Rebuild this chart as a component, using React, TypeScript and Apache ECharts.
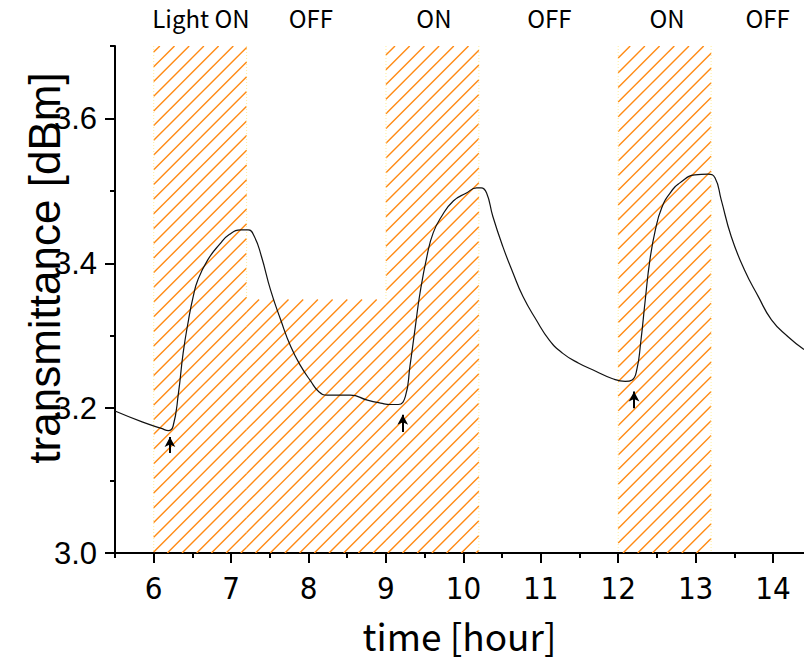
import React, { useEffect, useRef } from "react";
import * as echarts from "echarts";

// ---- data ----
const timeHour = [
  5.5, 5.85, 6.1, 6.19, 6.25, 6.32, 6.38, 6.45, 6.51, 6.57, 6.7, 6.85, 6.98, 7.13, 7.22, 7.3, 7.39, 7.51,
  7.64, 7.77, 7.9, 8.03, 8.13, 8.24, 8.54, 8.76, 8.93, 9.06, 9.16, 9.25, 9.31, 9.38, 9.44, 9.53, 9.61, 9.72,
  9.87, 10.04, 10.17, 10.23, 10.3, 10.38, 10.51, 10.64, 10.77, 10.94, 11.11, 11.28, 11.49, 11.71, 11.92,
  12.09, 12.18, 12.24, 12.29, 12.35, 12.41, 12.48, 12.56, 12.67, 12.82, 12.99, 13.16, 13.25, 13.33, 13.46,
  13.63, 13.81, 13.98, 14.19, 14.4,
];
const transmittance = [
  3.196, 3.181, 3.172, 3.169, 3.175, 3.221, 3.276, 3.322, 3.354, 3.377, 3.405, 3.426, 3.44, 3.446, 3.446,
  3.437, 3.41, 3.363, 3.322, 3.285, 3.258, 3.237, 3.223, 3.218, 3.218, 3.211, 3.207, 3.205, 3.205, 3.216,
  3.258, 3.313, 3.359, 3.41, 3.442, 3.465, 3.486, 3.497, 3.504, 3.504, 3.497, 3.465, 3.423, 3.387, 3.354,
  3.322, 3.294, 3.276, 3.262, 3.251, 3.241, 3.237, 3.239, 3.253, 3.29, 3.35, 3.405, 3.446, 3.476, 3.497,
  3.513, 3.522, 3.523, 3.518, 3.488, 3.437, 3.391, 3.354, 3.322, 3.299, 3.281,
];

const regionStart = [6, 7.2, 9, 12];
const regionEnd = [7.2, 9, 10.2, 13.2];
const regionTop = [3.7, 3.35, 3.7, 3.7];

const phaseLabels = ["Light ON", "OFF", "ON", "OFF", "ON", "OFF"];
const phaseLabelX = [6.61, 8.03, 9.62, 11.11, 12.63, 13.93];

const arrowX = [6.21, 9.217, 12.205];
const arrowBase = [3.138, 3.167, 3.2];
const arrowTip = [3.16, 3.191, 3.223];

const xMajorTicks = [6, 7, 8, 9, 10, 11, 12, 13, 14];
const xMinorTicks = [5.5, 6.5, 7.5, 8.5, 9.5, 10.5, 11.5, 12.5, 13.5];
const yMajorTicks = [3.0, 3.2, 3.4, 3.6];
const yMinorTicks = [3.1, 3.3, 3.5, 3.7];

const X_MIN = 5.5;
const X_MAX = 14.4;
const Y_MIN = 3.0;
const Y_MAX = 3.7;

export default function App() {
  const ref = useRef<HTMLDivElement>(null);

  useEffect(() => {
    if (!ref.current) return;
    const chart = echarts.init(ref.current, null, { renderer: "svg" });

    const lineData = timeHour.map((t, i) => [t, transmittance[i]]);
    const regionData = regionStart.map((s, i) => [s, regionEnd[i], regionTop[i]]);

    const option: any = {
      animation: false,
      backgroundColor: "#fff",
      grid: { left: 115, right: 0, top: 46, bottom: 113, containLabel: false },
      xAxis: [
        {
          type: "value",
          min: X_MIN,
          max: X_MAX,
          position: "bottom",
          name: "time [hour]",
          nameLocation: "middle",
          nameGap: 63,
          nameTextStyle: {
            fontSize: 37,
            lineHeight: 37,
            fontFamily: "'Noto Sans CJK JP', sans-serif",
            color: "#000",
          },
          axisLine: { show: true, onZero: false, lineStyle: { color: "#000", width: 2 } },
          axisTick: { show: true, customValues: xMajorTicks, length: 10, lineStyle: { color: "#000", width: 2 } },
          axisLabel: {
            show: true,
            customValues: xMajorTicks,
            margin: 19,
            fontSize: 31,
            fontFamily: "'Liberation Sans Narrow', 'DejaVu Sans Condensed', sans-serif",
            color: "#000",
            formatter: (v: number) => String(v),
          },
          splitLine: { show: false },
        },
        {
          type: "value",
          min: X_MIN,
          max: X_MAX,
          position: "bottom",
          axisLine: { show: false },
          axisTick: { show: true, customValues: xMinorTicks, length: 5, lineStyle: { color: "#000", width: 2 } },
          axisLabel: { show: false },
          splitLine: { show: false },
        },
      ],
      yAxis: [
        {
          type: "value",
          min: Y_MIN,
          max: Y_MAX,
          position: "left",
          axisLine: { show: true, onZero: false, lineStyle: { color: "#000", width: 2 } },
          axisTick: { show: true, customValues: yMajorTicks, length: 10, lineStyle: { color: "#000", width: 2 } },
          axisLabel: {
            show: true,
            customValues: yMajorTicks,
            margin: 18,
            fontSize: 31,
            fontFamily: "'Liberation Sans', Arial, sans-serif",
            color: "#000",
            formatter: (v: number) => v.toFixed(1),
          },
          splitLine: { show: false },
        },
        {
          type: "value",
          min: Y_MIN,
          max: Y_MAX,
          position: "left",
          axisLine: { show: false },
          axisTick: { show: true, customValues: yMinorTicks, length: 5, lineStyle: { color: "#000", width: 2 } },
          axisLabel: { show: false },
          splitLine: { show: false },
        },
      ],
      graphic: [
        {
          type: "text",
          x: 44,
          y: 268,
          rotation: Math.PI / 2,
          z: 100,
          style: {
            text: "transmittance [dBm]",
            fontSize: 44,
            fontFamily: "'Liberation Sans', Arial, sans-serif",
            fill: "#000",
            align: "center",
            verticalAlign: "middle",
            textAlign: "center",
            textVerticalAlign: "middle",
          },
        },
      ],
      series: [
        {
          type: "custom",
          name: "light",
          z: 1,
          silent: true,
          clip: true,
          encode: { x: [0, 1], y: 2 },
          data: regionData,
          renderItem: (params: any, api: any) => {
            const idx = params.dataIndex;
            const x0 = api.value(0);
            const x1 = api.value(1);
            const top = api.value(2);
            const p0 = api.coord([x0, top]);
            const p1 = api.coord([x1, Y_MIN]);
            const L = p0[0];
            const R = p1[0];
            const T = p0[1];
            const B = p1[1];
            const s = 14.7;
            const children: any[] = [];
            for (let k = Math.ceil((L + T) / s); k * s <= R + B; k++) {
              const c = k * s;
              const xa = Math.max(L, c - B);
              const xb = Math.min(R, c - T);
              if (xb - xa < 0.5) continue;
              children.push({
                type: "line",
                shape: { x1: xa, y1: c - xa, x2: xb, y2: c - xb },
                style: { stroke: "#ff8a14", lineWidth: 1.4 },
              });
            }
            // faint dotted outer edges (only where not adjacent to another hatched block)
            const edgeBottom = (xEdge: number) => {
              let bottom = B;
              regionStart.forEach((s2, j) => {
                if (j === idx) return;
                if (Math.abs(s2 - xEdge) < 1e-9 || Math.abs(regionEnd[j] - xEdge) < 1e-9) {
                  const other = api.coord([xEdge, regionTop[j]])[1];
                  bottom = Math.min(bottom, other);
                }
              });
              return bottom;
            };
            const lb = edgeBottom(x0);
            const rb = edgeBottom(x1);
            if (lb > T + 1)
              children.push({
                type: "line",
                shape: { x1: L, y1: T, x2: L, y2: lb },
                style: { stroke: "#ffec99", lineWidth: 1, lineDash: [1, 2] },
              });
            if (rb > T + 1)
              children.push({
                type: "line",
                shape: { x1: R, y1: T, x2: R, y2: rb },
                style: { stroke: "#ffec99", lineWidth: 1, lineDash: [1, 2] },
              });
            return { type: "group", children };
          },
        },
        {
          type: "line",
          name: "transmittance",
          z: 3,
          data: lineData,
          showSymbol: false,
          symbol: "none",
          smooth: 0.5,
          lineStyle: { color: "#111", width: 1.2 },
          markLine: {
            silent: true,
            symbol: ["none", "arrow"],
            symbolSize: [8, 10],
            label: { show: false },
            lineStyle: { color: "#000", width: 2, type: "solid" },
            data: arrowX.map((x, i) => [{ coord: [x, arrowBase[i]] }, { coord: [x, arrowTip[i]] }]),
          },
          markPoint: {
            silent: true,
            symbol: "rect",
            symbolSize: 1,
            itemStyle: { color: "rgba(0,0,0,0)" },
            label: {
              show: true,
              position: "inside",
              offset: [0, -29],
              color: "#000",
              fontSize: 24,
              fontFamily: "'Noto Sans CJK JP', sans-serif",
              formatter: (p: any) => p.name,
            },
            data: phaseLabels.map((t, i) => ({ name: t, coord: [phaseLabelX[i], Y_MAX] })),
          },
        },
      ],
    };

    chart.setOption(option);
    return () => chart.dispose();
  }, []);

  return (
    <div
      ref={ref}
      style={{ position: "fixed", left: 0, top: 0, width: 804, height: 666, background: "#fff" }}
    />
  );
}
